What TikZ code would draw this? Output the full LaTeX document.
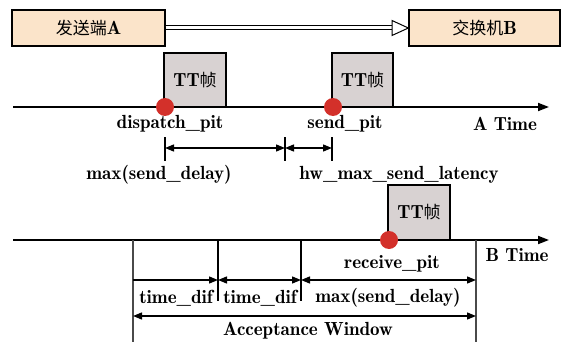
\documentclass[tikz,border=0pt]{standalone}
\usepackage{fontspec}
\newfontfamily\cjkfamily{Noto Sans CJK SC}
\newcommand\cjk{\fontsize{17}{20}\fontseries{m}\cjkfamily}
\usetikzlibrary{arrows.meta}
\definecolor{peach}{HTML}{FBE4CA}
\definecolor{framegray}{HTML}{D8D2D2}
\definecolor{dotred}{HTML}{D3302A}
\definecolor{vgray}{HTML}{4A4A4A}
\newcommand\labelfont{\fontsize{19}{22}\fontseries{b}\selectfont}
\tikzset{
  lbl/.style={font=\labelfont, inner sep=0pt},
  hostbox/.style={draw, line width=1.3pt, fill=peach, minimum height=36pt,
    inner sep=0pt, font=\labelfont},
  ttframe/.style={draw, line width=1.2pt, fill=framegray, inner sep=0pt,
    font=\labelfont},
  timeline/.style={line width=1.8pt, -{Triangle[length=11pt,width=8pt]}},
  pit/.style={circle, fill=dotred, minimum size=18pt, inner sep=0pt},
  tickline/.style={line width=1.2pt},
  vline/.style={line width=1.4pt, draw=vgray},
  dimline/.style={line width=1.3pt},
  tip/.tip={Triangle[length=9pt,width=7pt]}
}
\begin{document}
\begin{tikzpicture}[x=1pt,y=-1pt]
\useasboundingbox (0,0) rectangle (561,342);

% sender and switch
\node[hostbox, minimum width=153pt] (A) at (88.5,28) {{\cjk 发送端}A};
\node[hostbox, minimum width=151pt] (B) at (484.5,28) {{\cjk 交换机}B};
\coordinate (hd) at (392,28);
\draw[double, double distance=3pt, line width=1pt] (A.east) -- (hd);
\draw[line width=1pt, fill=white] ([yshift=7.5pt]hd) -- (B.west) -- ([yshift=-7.5pt]hd) -- cycle;

% A time axis
\coordinate (a0) at (13,107);
\coordinate (a1) at (549,107);
\node[ttframe, minimum width=62pt, minimum height=54pt] (f1) at (195,80) {TT{\cjk 帧}};
\node[ttframe, minimum width=61pt, minimum height=54pt] (f2) at (362.5,80) {TT{\cjk 帧}};
\draw[timeline] (a0) -- (a1);
\node[pit] (d1) at (165,107) {};
\node[pit] (d2) at (333,107) {};
\node[lbl] (ldisp) at (170,124) {dispatch\_pit};
\node[lbl] (lsend) at (345,124) {send\_pit};
\node[lbl] (latime) at (505,124) {A Time};

% send delay and latency
\coordinate (t1a) at (165,137); \coordinate (t1b) at (165,161);
\coordinate (t2a) at (285,137); \coordinate (t2b) at (285,161);
\coordinate (t3a) at (332,137); \coordinate (t3b) at (332,161);
\draw[tickline] (t1a) -- (t1b);
\draw[tickline] (t2a) -- (t2b);
\draw[tickline] (t3a) -- (t3b);
\coordinate (m1) at (165,148);
\coordinate (m2) at (285,148);
\coordinate (m3) at (332,148);
\draw[dimline, tip-tip] (m1) -- (m2);
\draw[dimline, tip-tip] (m2) -- (m3);
\node[lbl] (lmax1) at (159,175) {max(send\_delay)};
\node[lbl] (lhw) at (399,175) {hw\_max\_send\_latency};

% B time axis
\coordinate (b0) at (13,240);
\coordinate (b1) at (549,240);
\node[ttframe, minimum width=62pt, minimum height=55pt] (f3) at (419,212.5) {TT{\cjk 帧}};
\draw[timeline] (b0) -- (b1);
\node[pit] (d3) at (389,240) {};
\node[lbl] (lrecv) at (392,264) {receive\_pit};
\node[lbl] (lbtime) at (517,255) {B Time};

% acceptance window
\coordinate (v1a) at (133,240); \coordinate (v1b) at (133,342);
\coordinate (v2a) at (218,240); \coordinate (v2b) at (218,301);
\coordinate (v3a) at (301,240); \coordinate (v3b) at (301,301);
\coordinate (v4a) at (476,240); \coordinate (v4b) at (476,342);
\draw[vline] (v1a) -- (v1b);
\draw[tickline] (v2a) -- (v2b);
\draw[tickline] (v3a) -- (v3b);
\draw[vline] (v4a) -- (v4b);
\coordinate (r1) at (133,280);
\coordinate (r2) at (218,280);
\coordinate (r3) at (301,280);
\coordinate (r4) at (476,280);
\draw[dimline, -tip] (r1) -- (r2);
\draw[dimline, tip-tip] (r2) -- (r3);
\draw[dimline, tip-tip] (r3) -- (r4);
\node[lbl] (ltd1) at (176,298) {time\_dif};
\node[lbl] (ltd2) at (260,298) {time\_dif};
\node[lbl] (lmax2) at (388,298) {max(send\_delay)};
\coordinate (w1) at (133,316);
\coordinate (w2) at (476,316);
\draw[dimline, tip-tip] (w1) -- (w2);
\node[lbl] (lacc) at (308,331) {Acceptance Window};
\end{tikzpicture}
\end{document}
